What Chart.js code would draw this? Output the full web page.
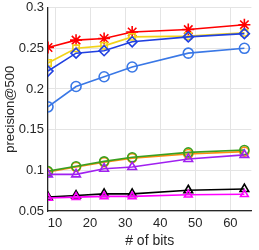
<!DOCTYPE html>
<html>
<head>
<meta charset="utf-8">
<script src="https://cdn.jsdelivr.net/npm/chart.js@4/dist/chart.umd.min.js"></script>
<style>
  body { margin: 0; background: #fff; }
  canvas { display: block; }
</style>
</head>
<body>
<canvas id="myChart" width="259" height="250"></canvas>
<script>
// data
const bits = [8, 16, 24, 32, 48, 64];
const yTicks = [0.05, 0.1, 0.15, 0.2, 0.25, 0.3];

const redStar = [0.251, 0.260, 0.262, 0.270, 0.273, 0.279];
const yellowSquare = [0.232, 0.250, 0.253, 0.264, 0.265, 0.269];
const blueDiamond = [0.222, 0.244, 0.247, 0.258, 0.264, 0.268];
const lightBlueCircle = [0.178, 0.203, 0.215, 0.227, 0.244, 0.250];
const greenCircle = [0.099, 0.105, 0.111, 0.116, 0.122, 0.125];
const orangeCircle = [0.098, 0.104, 0.110, 0.115, 0.120, 0.123];
const purpleTriangle = [0.095, 0.095, 0.102, 0.104, 0.114, 0.119];
const blackTriangle = [0.067, 0.069, 0.071, 0.071, 0.0755, 0.077];
const magentaTri = [0.066, 0.067, 0.068, 0.068, 0.070, 0.0705];

function pts(arr) {
   const out = [];
   for (let i = 0; i < bits.length; i++) {
      out.push({x: bits[i], y: arr[i]});
   }
   return out;
}

function series(label, arr, color, style, radius, rot) {
   return {
      label: label,
      data: pts(arr),
      borderColor: color,
      backgroundColor: 'rgba(0,0,0,0)',
      pointBorderColor: color,
      pointBackgroundColor: 'rgba(0,0,0,0)',
      pointStyle: style,
      pointRadius: radius,
      pointRotation: rot || 0,
      pointBorderWidth: 1.6,
      borderWidth: 1.6,
      tension: 0
   };
}

const txt = '#262626';
const font13 = { family: 'Liberation Sans', size: 13 };

const ctx = document.getElementById('myChart').getContext('2d');
const myChart = new Chart(ctx, {
   type: 'line',
   data: {
      datasets: [
         series('magenta', magentaTri, '#ff00ff', 'triangle', 4.5),
         series('black', blackTriangle, '#000000', 'triangle', 5),
         series('purple', purpleTriangle, '#a020f0', 'triangle', 5),
         series('green', greenCircle, '#3aa020', 'circle', 4.5),
         series('orange', orangeCircle, '#ff8c10', 'circle', 4.5),
         series('lightblue', lightBlueCircle, '#3a78e6', 'circle', 5),
         series('blue', blueDiamond, '#2040e0', 'rectRot', 5),
         series('yellow', yellowSquare, '#f2d318', 'rect', 4.5),
         series('red', redStar, '#ff0000', 'star', 6)
      ]
   },
   options: {
      responsive: false,
      animation: false,
      layout: { padding: { top: 0, right: 1, left: 0, bottom: 0 } },
      plugins: { legend: { display: false }, tooltip: { enabled: false } },
      scales: {
         x: {
            type: 'linear',
            min: 8,
            max: 66,
            afterBuildTicks: function(scale) {
               scale.ticks = [10, 20, 30, 40, 50, 60].map(v => ({value: v}));
            },
            afterFit: function(scale) {
               scale.height = 39;
               scale.paddingRight = 1;
            },
            grid: { color: '#e4e4e4', drawTicks: false },
            border: { color: txt, width: 1.3 },
            ticks: { color: txt, font: font13, padding: 5, maxRotation: 0 },
            title: { display: true, text: '# of bits', color: txt, font: { family: 'Liberation Sans', size: 14 }, padding: { top: 0, bottom: 0 } }
         },
         y: {
            min: 0.05,
            max: 0.3,
            afterBuildTicks: function(scale) {
               scale.ticks = yTicks.map(v => ({value: v}));
            },
            afterFit: function(scale) {
               scale.width = 48;
               scale.paddingTop = 6;
               scale.paddingBottom = 0;
            },
            grid: { color: '#e4e4e4', drawTicks: false },
            border: { color: txt, width: 1.3 },
            ticks: {
               color: txt,
               font: font13,
               padding: 4,
               callback: function(v) { return String(Math.round(v * 100) / 100); }
            },
            title: { display: true, text: 'precision@500', color: txt, font: font13, padding: { top: 3, bottom: 0 } }
         }
      }
   }
});
</script>
</body>
</html>
